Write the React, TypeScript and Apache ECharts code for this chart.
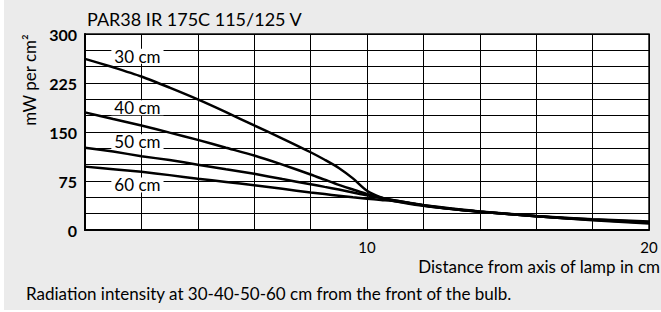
import React, { useEffect, useRef } from "react";
import * as echarts from "echarts";

const distances = [0, 1, 2, 3, 4, 5, 6, 7, 8, 8.5, 9, 9.5, 10, 10.5, 11, 12, 13, 14, 16, 18, 20];
const cm30 = [262, 249, 235, 218, 200, 180.5, 160, 140, 119, 107.5, 95, 79, 60, 50, 44, 37, 32, 28, 21, 15, 10];
const cm40 = [180, 170, 160, 149, 138, 126, 114, 100, 85, 77, 69, 62, 55, 49.5, 45, 37.5, 32, 28, 21, 15.5, 11];
const cm50 = [126, 120, 113, 107, 100, 93, 86, 78, 70, 66, 62, 57.5, 53, 49, 45, 38, 32.5, 28, 21, 16, 12];
const cm60 = [97, 93, 89, 84, 78.5, 73.5, 68.5, 63, 57.5, 55, 52.5, 50, 48, 46, 44, 38, 33, 28.5, 21.5, 16.5, 13];
const seriesNames = ["30 cm", "40 cm", "50 cm", "60 cm"];
const seriesValues = [cm30, cm40, cm50, cm60];
const labelX = [1.86, 1.86, 1.86, 1.86];
const labelY = [266, 187, 135, 69];

const titleText = "PAR38 IR 175C 115/125 V";
const yName = "mW per cm²";
const xName = "Distance from axis of lamp in cm";
const caption = "Radiation intensity at 30-40-50-60 cm from the front of the bulb.";

const FONT = "Lato, 'Open Sans', sans-serif";

export default function App() {
  const ref = useRef<HTMLDivElement>(null);
  useEffect(() => {
    if (!ref.current) return;
    const chart = echarts.init(ref.current, null, { renderer: "svg" });
    const series = seriesNames.map((name, i) => ({
      name,
      type: "line",
      data: distances.map((d, j) => [d, seriesValues[i][j]]),
      smooth: 0.25,
      symbol: "none",
      lineStyle: { color: "#000", width: 2.5 },
      markPoint: {
        symbol: "rect",
        symbolSize: 0,
        data: [{ coord: [labelX[i], labelY[i]] }],
        label: {
          show: true,
          position: "inside",
          formatter: name,
          color: "#000",
          fontFamily: FONT,
          fontSize: 17,
          backgroundColor: "#fff",
          padding: [0, 3],
          lineHeight: 15,
        },
      },
    }));
    chart.setOption({
      animation: false,
      backgroundColor: "transparent",
      textStyle: { fontFamily: FONT },
      grid: {
        left: 85,
        top: 34,
        width: 564,
        height: 196,
        show: true,
        backgroundColor: "#fff",
        borderColor: "#111",
        borderWidth: 1.5,
      },
      xAxis: {
        type: "value",
        min: 0,
        max: 20,
        interval: 2,
        axisLine: { show: true, lineStyle: { color: "#000", width: 2 } },
        axisTick: { show: false },
        splitLine: { show: true, lineStyle: { color: "#000", width: 1 } },
        axisLabel: {
          margin: 9,
          color: "#000",
          fontSize: 15,
          fontFamily: FONT,
          formatter: (v: number) => (v > 0 && v % 10 === 0 ? String(v) : ""),
        },
      },
      yAxis: {
        type: "value",
        min: 0,
        max: 300,
        interval: 25,
        axisLine: { show: true, lineStyle: { color: "#000", width: 2 } },
        axisTick: { show: false },
        splitLine: { show: true, lineStyle: { color: "#000", width: 1 } },
        axisLabel: {
          margin: 8,
          color: "#000",
          fontSize: 16,
          fontWeight: "bold",
          fontFamily: FONT,
          formatter: (v: number) => (v % 75 === 0 ? String(v) : ""),
        },
      },
      graphic: [
        {
          type: "text",
          x: 87,
          y: 18.5,
          style: { text: titleText, fill: "#000", font: `18px ${FONT}`, verticalAlign: "middle" },
        },
        {
          type: "text",
          x: 29,
          y: 80,
          rotation: Math.PI / 2,
          style: {
            text: yName,
            fill: "#000",
            font: `17px ${FONT}`,
            align: "center",
            verticalAlign: "middle",
          },
        },
        {
          type: "text",
          x: 660,
          y: 266,
          style: {
            text: xName,
            fill: "#000",
            font: `17px ${FONT}`,
            align: "right",
            verticalAlign: "middle",
          },
        },
        {
          type: "text",
          x: 26,
          y: 293,
          style: {
            text: caption,
            fill: "#000",
            font: `17px ${FONT}`,
            align: "left",
            verticalAlign: "middle",
          },
        },
      ],
      series,
    });
    return () => chart.dispose();
  }, []);
  return (
    <div style={{ position: "fixed", left: 0, top: 0, width: 661, height: 312, background: "#fff" }}>
      <div style={{ position: "absolute", left: 4, top: 0, width: 657, height: 310, background: "#ebebeb" }} />
      <div ref={ref} style={{ position: "absolute", left: 0, top: 0, width: 661, height: 312 }} />
    </div>
  );
}
